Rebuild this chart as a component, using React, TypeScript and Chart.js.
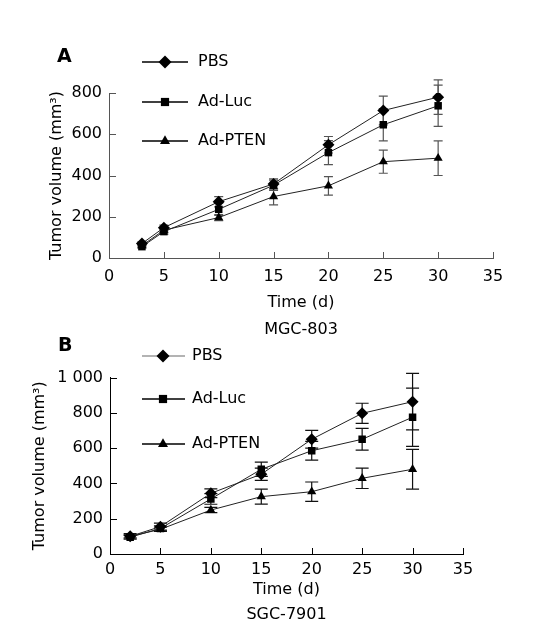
import React, { useEffect, useRef } from 'react';
import { Chart, registerables } from 'chart.js';

Chart.register(...registerables);

// ---------- data ----------
const seriesNames = ['PBS', 'Ad-Luc', 'Ad-PTEN'];
const pointStyles = ['rectRot', 'rect', 'triangle'];
const pointRadii = [6, 5.3, 5.3];

const xTicks = [0, 5, 10, 15, 20, 25, 30, 35];

// Panel A: MGC-803
const daysA = [3, 5, 10, 15, 20, 25, 30];
const pbsA = [70, 147, 273, 359, 549, 715, 780];
const lucA = [55, 128, 236, 353, 511, 646, 738];
const ptenA = [60, 135, 196, 298, 350, 467, 484];
const pbsErrA = [8, 12, 25, 25, 40, 70, 84];
const lucErrA = [6, 12, 30, 25, 58, 78, 100];
const ptenErrA = [5, 10, 15, 40, 45, 56, 84];
const yTicksA = [0, 200, 400, 600, 800];
const yTickLabelsA = ['0', '200', '400', '600', '800'];

// Panel B: SGC-7901
const daysB = [2, 5, 10, 15, 20, 25, 30];
const pbsB = [100, 155, 344, 452, 650, 797, 863];
const lucB = [95, 145, 312, 480, 585, 650, 775];
const ptenB = [100, 140, 249, 325, 353, 429, 480];
const pbsErrB = [15, 20, 25, 35, 50, 57, 160];
const lucErrB = [10, 15, 30, 40, 53, 62, 165];
const ptenErrB = [8, 12, 15, 42, 55, 58, 113];
const yTicksB = [0, 200, 400, 600, 800, 1000];
const yTickLabelsB = ['0', '200', '400', '600', '800', '1 000'];

const FONT = '"DejaVu Sans", Verdana, sans-serif';

type Panel = {
  letter: string;
  cell: string;
  top: number;
  height: number;
  area: { left: number; right: number; top: number; bottom: number };
  days: number[];
  values: number[][];
  errors: number[][];
  yMax: number;
  yTicks: number[];
  yTickLabels: string[];
  axisColor: string;
  errColor: string;
  capHalf: number;
  yTitlePad: number;
  xTickPad: number;
  xTitleLH: number;
  xTitlePadBottom: number;
  legend: { x1: number; x2: number; mx: number; tx: number; ys: number[]; lineColors: string[] };
  letterPos: { x: number; y: number };
};

const panels: Panel[] = [
  {
    letter: 'A',
    cell: 'MGC-803',
    top: 0,
    height: 345,
    area: { left: 109, right: 493, top: 93, bottom: 258 },
    days: daysA,
    values: [pbsA, lucA, ptenA],
    errors: [pbsErrA, lucErrA, ptenErrA],
    yMax: 800,
    yTicks: yTicksA,
    yTickLabels: yTickLabelsA,
    axisColor: '#555',
    errColor: '#555',
    capHalf: 4.5,
    yTitlePad: 47,
    xTickPad: 9,
    xTitleLH: 1.66,
    xTitlePadBottom: 2,
    legend: { x1: 142, x2: 188, mx: 165, tx: 198, ys: [62, 102, 141], lineColors: ['#000', '#000', '#000'] },
    letterPos: { x: 57, y: 57 },
  },
  {
    letter: 'B',
    cell: 'SGC-7901',
    top: 330,
    height: 309,
    area: { left: 110, right: 463, top: 47.5, bottom: 224 },
    days: daysB,
    values: [pbsB, lucB, ptenB],
    errors: [pbsErrB, lucErrB, ptenErrB],
    yMax: 1000,
    yTicks: yTicksB,
    yTickLabels: yTickLabelsB,
    axisColor: '#000',
    errColor: '#111',
    capHalf: 6.5,
    yTitlePad: 30,
    xTickPad: 6,
    xTitleLH: 1.5625,
    xTitlePadBottom: 11.5,
    legend: { x1: 142, x2: 185, mx: 163, tx: 192, ys: [26, 69, 114], lineColors: ['#9a9a9a', '#000', '#000'] },
    letterPos: { x: 58, y: 16 },
  },
];

function drawMarker(ctx: CanvasRenderingContext2D, style: string, x: number, y: number, r: number) {
  ctx.beginPath();
  if (style === 'rectRot') {
    ctx.moveTo(x, y - r);
    ctx.lineTo(x + r, y);
    ctx.lineTo(x, y + r);
    ctx.lineTo(x - r, y);
  } else if (style === 'rect') {
    const s = r * Math.SQRT1_2;
    ctx.rect(x - s, y - s, 2 * s, 2 * s);
  } else {
    ctx.moveTo(x, y - r);
    ctx.lineTo(x + r * Math.sin((2 * Math.PI) / 3), y - r * Math.cos((2 * Math.PI) / 3));
    ctx.lineTo(x + r * Math.sin((4 * Math.PI) / 3), y - r * Math.cos((4 * Math.PI) / 3));
  }
  ctx.closePath();
  ctx.fill();
}

const errorBarPlugin = {
  id: 'errorBarPlugin',
  beforeDatasetsDraw(chart: any, _args: any, opts: any) {
    const { ctx, scales } = chart;
    const x = scales.x;
    const y = scales.y;
    ctx.save();
    ctx.strokeStyle = opts.color;
    ctx.lineWidth = 1.2;
    chart.data.datasets.forEach((ds: any) => {
      ds.data.forEach((p: any, j: number) => {
        const e = ds.errors[j];
        const px = x.getPixelForValue(p.x);
        const t = y.getPixelForValue(p.y + e);
        const b = y.getPixelForValue(Math.max(0, p.y - e));
        ctx.beginPath();
        ctx.moveTo(px, t);
        ctx.lineTo(px, b);
        ctx.moveTo(px - opts.capHalf, t);
        ctx.lineTo(px + opts.capHalf, t);
        ctx.moveTo(px - opts.capHalf, b);
        ctx.lineTo(px + opts.capHalf, b);
        ctx.stroke();
      });
    });
    ctx.restore();
  },
};

const decorPlugin = {
  id: 'decorPlugin',
  afterDraw(chart: any, _args: any, opts: any) {
    const { ctx, chartArea, scales } = chart;
    ctx.save();
    // inward tick marks
    ctx.strokeStyle = opts.axisColor;
    ctx.lineWidth = 1;
    ctx.beginPath();
    scales.x.ticks.forEach((t: any) => {
      const px = Math.round(scales.x.getPixelForValue(t.value)) + 0.5;
      ctx.moveTo(px, chartArea.bottom);
      ctx.lineTo(px, chartArea.bottom - 6);
    });
    scales.y.ticks.forEach((t: any) => {
      const py = Math.round(scales.y.getPixelForValue(t.value)) + 0.5;
      ctx.moveTo(chartArea.left, py);
      ctx.lineTo(chartArea.left + 7, py);
    });
    ctx.stroke();

    // legend
    const lg = opts.legend;
    chart.data.datasets.forEach((ds: any, i: number) => {
      const yy = lg.ys[i];
      ctx.strokeStyle = lg.lineColors[i];
      ctx.lineWidth = 1.3;
      ctx.beginPath();
      ctx.moveTo(lg.x1, yy);
      ctx.lineTo(lg.x2, yy);
      ctx.stroke();
      ctx.fillStyle = '#000';
      drawMarker(ctx, ds.pointStyle, lg.mx, yy, ds.pointRadius + 0.5);
      ctx.font = `16px ${FONT}`;
      ctx.textAlign = 'left';
      ctx.textBaseline = 'middle';
      ctx.fillText(ds.label, lg.tx, yy);
    });

    // panel letter
    ctx.fillStyle = '#000';
    ctx.font = `bold 19px ${FONT}`;
    ctx.textAlign = 'left';
    ctx.textBaseline = 'middle';
    ctx.fillText(opts.letter, opts.letterPos.x, opts.letterPos.y);
    ctx.restore();
  },
};

function PanelChart({ p }: { p: Panel }) {
  const ref = useRef<HTMLCanvasElement>(null);
  useEffect(() => {
    if (!ref.current) return;
    const datasets = seriesNames.map((name, i) => ({
      label: name,
      data: p.days.map((d, j) => ({ x: d, y: p.values[i][j] })),
      errors: p.errors[i],
      borderColor: '#222',
      borderWidth: 1,
      backgroundColor: '#000',
      pointBackgroundColor: '#000',
      pointBorderColor: '#000',
      pointBorderWidth: 0,
      pointStyle: pointStyles[i],
      pointRadius: pointRadii[i],
      showLine: true,
      tension: 0,
    }));
    const chart = new Chart(ref.current, {
      type: 'scatter',
      data: { datasets } as any,
      options: {
        animation: false,
        responsive: false,
        devicePixelRatio: 1,
        layout: {
          padding: {
            left: 0,
            top: p.area.top,
            right: 535 - p.area.right,
            bottom: 0,
          },
        },
        plugins: {
          legend: { display: false },
          tooltip: { enabled: false },
          errorBarPlugin: { color: p.errColor, capHalf: p.capHalf },
          decorPlugin: {
            axisColor: p.axisColor,
            legend: p.legend,
            letter: p.letter,
            letterPos: p.letterPos,
          },
        } as any,
        scales: {
          x: {
            type: 'linear',
            min: 0,
            max: 35,
            afterFit: (s: any) => {
              s.height = p.height - p.area.bottom;
            },
            afterBuildTicks: (s: any) => {
              s.ticks = xTicks.map((v) => ({ value: v }));
            },
            grid: { display: false, drawTicks: false },
            border: { display: true, color: p.axisColor, width: 1 },
            ticks: {
              color: '#000',
              padding: p.xTickPad,
              font: { family: FONT, size: 16 },
              maxRotation: 0,
              autoSkip: false,
              callback: (v: any) => String(v),
            },
            title: {
              display: true,
              text: ['Time (d)', p.cell],
              color: '#000',
              font: { family: FONT, size: 16, lineHeight: p.xTitleLH },
              padding: { top: 0, bottom: p.xTitlePadBottom },
            },
          },
          y: {
            type: 'linear',
            min: 0,
            max: p.yMax,
            afterFit: (s: any) => {
              s.width = p.area.left;
            },
            afterBuildTicks: (s: any) => {
              s.ticks = p.yTicks.map((v) => ({ value: v }));
            },
            grid: { display: false, drawTicks: false },
            border: { display: true, color: p.axisColor, width: 1 },
            ticks: {
              color: '#000',
              padding: 7,
              font: { family: FONT, size: 16 },
              autoSkip: false,
              callback: (v: any) => {
                const idx = p.yTicks.indexOf(Number(v));
                return idx >= 0 ? p.yTickLabels[idx] : '';
              },
            },
            title: {
              display: true,
              text: 'Tumor volume (mm³)',
              color: '#000',
              font: { family: FONT, size: 16, lineHeight: 1.2 },
              padding: { top: p.yTitlePad, bottom: 0 },
            },
          },
        },
      } as any,
      plugins: [errorBarPlugin, decorPlugin],
    });
    return () => chart.destroy();
  }, [p]);
  return (
    <canvas
      ref={ref}
      width={535}
      height={p.height}
      style={{ position: 'absolute', left: 0, top: p.top, width: 535, height: p.height }}
    />
  );
}

export default function App() {
  return (
    <div style={{ position: 'absolute', left: 0, top: 0, width: 535, height: 639, background: '#fff' }}>
      {panels.map((p) => (
        <PanelChart key={p.letter} p={p} />
      ))}
    </div>
  );
}
